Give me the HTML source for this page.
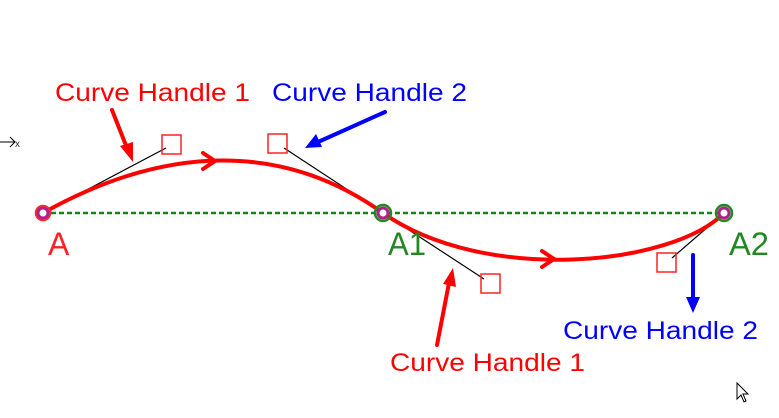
<!DOCTYPE html>
<html><head><style>html,body{margin:0;padding:0;background:#fff;}svg{display:block}</style></head>
<body>
<svg width="779" height="418" viewBox="0 0 779 418" xmlns="http://www.w3.org/2000/svg" font-family="Liberation Sans, sans-serif">
<rect width="779" height="418" fill="#fff"/>
<!-- x axis marker -->
<path d="M0,142 H15 M10,137 L15,142 L10,147" stroke="#000" fill="none" stroke-width="1"/>
<text x="15" y="147" font-size="10" fill="#333">x</text>
<!-- dashed baseline -->
<line x1="43" y1="213" x2="724" y2="213" stroke="#118811" stroke-width="2.5" stroke-dasharray="5,3"/>
<!-- handle lines -->
<line x1="43" y1="213" x2="166" y2="148" stroke="#000" stroke-width="1.2"/>
<line x1="383" y1="213" x2="284" y2="148" stroke="#000" stroke-width="1.2"/>
<line x1="383" y1="213" x2="484" y2="279" stroke="#000" stroke-width="1.2"/>
<line x1="724" y1="213" x2="672" y2="258" stroke="#000" stroke-width="1.2"/>
<!-- boxes -->
<g fill="none" stroke="#ff2222" stroke-width="1.5">
<rect x="162" y="135" width="19" height="19"/>
<rect x="268" y="134" width="19" height="19"/>
<rect x="481" y="274" width="19" height="19"/>
<rect x="657" y="253" width="19" height="19"/>
</g>
<!-- curve -->
<path d="M43,213 C166,144 284,142 383,213 C484,284 672,266 724,213" fill="none" stroke="#ff0000" stroke-width="4"/>
<path d="M203,153 L215,161 L203,169" fill="none" stroke="#ff0000" stroke-width="4" stroke-linecap="round"/>
<path d="M542,251 L554,259 L542,267" fill="none" stroke="#ff0000" stroke-width="4" stroke-linecap="round"/>
<!-- points -->
<circle cx="43" cy="213" r="7" fill="#fff" stroke="#ff2a2a" stroke-width="2.5"/>
<circle cx="43" cy="213" r="5" fill="#fff" stroke="#b0208a" stroke-width="3"/>
<circle cx="383" cy="213" r="8" fill="none" stroke="#228822" stroke-width="2.5"/>
<circle cx="383" cy="213" r="5" fill="#fff" stroke="#b0208a" stroke-width="3"/>
<circle cx="724" cy="213" r="8" fill="none" stroke="#228822" stroke-width="2.5"/>
<circle cx="724" cy="213" r="5" fill="#fff" stroke="#b0208a" stroke-width="3"/>
<!-- pointer arrows -->
<g stroke-width="4" stroke-linecap="round">
<line x1="112" y1="110" x2="127" y2="148" stroke="#ff0000"/>
<polygon points="133,162 120,146 133,142" fill="#ff0000" stroke="none"/>
<line x1="385" y1="112" x2="318" y2="142" stroke="#0000ff"/>
<polygon points="305,148 316,134 322,147" fill="#0000ff" stroke="none"/>
<line x1="437" y1="345" x2="449" y2="283" stroke="#ff0000"/>
<polygon points="453,268 456,287 443,284" fill="#ff0000" stroke="none"/>
<line x1="693" y1="255" x2="693" y2="298" stroke="#0000ff"/>
<polygon points="693,313 686,297 700,297" fill="#0000ff" stroke="none"/>
</g>
<!-- labels -->
<text x="55" y="101" font-size="25" fill="#ff0000" textLength="195" lengthAdjust="spacingAndGlyphs">Curve Handle 1</text>
<text x="272" y="101" font-size="25" fill="#0000ff" textLength="195" lengthAdjust="spacingAndGlyphs">Curve Handle 2</text>
<text x="390" y="371" font-size="25" fill="#ff0000" textLength="195" lengthAdjust="spacingAndGlyphs">Curve Handle 1</text>
<text x="563" y="339" font-size="25" fill="#0000ff" textLength="195" lengthAdjust="spacingAndGlyphs">Curve Handle 2</text>
<text x="48" y="255" font-size="32" fill="#ff2222">A</text>
<text x="388" y="255" font-size="32" fill="#228822" textLength="38" lengthAdjust="spacingAndGlyphs">A1</text>
<text x="729" y="255" font-size="32" fill="#228822" textLength="40" lengthAdjust="spacingAndGlyphs">A2</text>
<!-- cursor -->
<path d="M737,383 L737,399 L741,395 L744,402 L746,401 L743,394 L748,394 Z" fill="#fff" stroke="#000" stroke-width="1"/>
</svg>
</body></html>
